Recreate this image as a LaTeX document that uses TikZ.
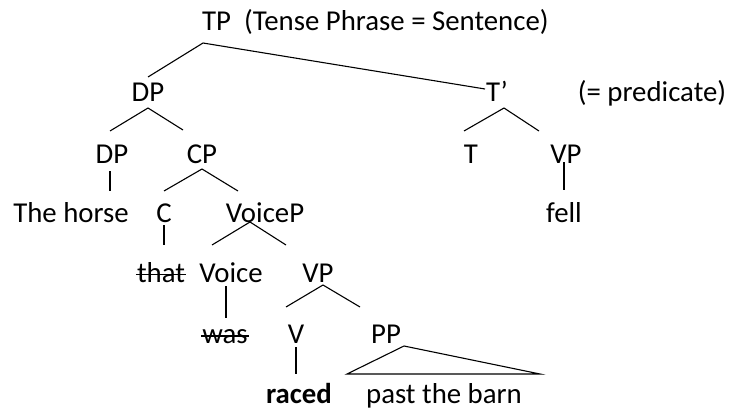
\documentclass[tikz,border=0pt]{standalone}
\usepackage{fontspec}
\setmainfont{Carlito}
\begin{document}
\begin{tikzpicture}[x=1pt,y=-1pt,
  lab/.style={anchor=base,inner sep=0pt,font=\fontsize{28.8}{30}\selectfont},
  edge/.style={line width=1.1pt},
  strike/.style={line width=1.1pt}]
\useasboundingbox (0,0) rectangle (731,412);
% labels
\node[lab,anchor=base west] (TP) at (202,31) {TP\ \ (Tense Phrase = Sentence)};
\node[lab] (DPa) at (148,102) {DP};
\node[lab] (Tbar) at (497,102) {T’};
\node[lab] (pred) at (652,102) {(= predicate)};
\node[lab] (DPb) at (112,163) {DP};
\node[lab] (CP) at (202,163) {CP};
\node[lab] (T) at (471,163) {T};
\node[lab] (VPa) at (566,163) {VP};
\node[lab] (horse) at (71,222) {The horse};
\node[lab] (C) at (164,222) {C};
\node[lab] (VoiceP) at (265,222) {VoiceP};
\node[lab] (fell) at (564,222) {fell};
\node[lab] (that) at (161,282) {that};
\node[lab] (Voice) at (231,282) {Voice};
\node[lab] (VPb) at (318,282) {VP};
\node[lab] (was) at (225,343) {was};
\node[lab] (V) at (296,343) {V};
\node[lab] (PP) at (386,343) {PP};
\node[lab,font=\fontsize{28.8}{30}\selectfont\bfseries] (raced) at (299,403) {raced};
\node[lab] (barn) at (444,403) {past the barn};
% strike-through
\draw[strike] ([xshift=-1pt,yshift=7.5pt]that.base west) -- ([xshift=1pt,yshift=7.5pt]that.base east);
\draw[strike] ([xshift=-1pt,yshift=7pt]was.base west) -- ([xshift=1pt,yshift=7pt]was.base east);
% branch points
\coordinate (tpb) at (203,43);
\coordinate (dpat) at (148,77);
\coordinate (tbart) at (485,89);
\coordinate (dpab) at (148,108);
\coordinate (dpbt) at (110,131);
\coordinate (cpt) at (183,130);
\coordinate (dpbb) at (110,171);
\coordinate (horset) at (110,191);
\coordinate (cpb) at (202,169);
\coordinate (ct) at (164,191);
\coordinate (voicept) at (238,191);
\coordinate (tbarb) at (504,108);
\coordinate (tt) at (464,131);
\coordinate (vpat) at (539,131);
\coordinate (vpab) at (564,162);
\coordinate (fellt) at (564,190);
\coordinate (cb) at (164,225);
\coordinate (thatt) at (164,245);
\coordinate (voicepb) at (250,222);
\coordinate (voicet) at (212,245);
\coordinate (vpbt) at (286,245);
\coordinate (voiceb) at (226,286);
\coordinate (wast) at (226,318);
\coordinate (vpbb) at (323,285);
\coordinate (vt) at (286,307);
\coordinate (ppt) at (360,307);
\coordinate (vb) at (296,347);
\coordinate (racedt) at (296,374);
\coordinate (ppapex) at (404,346);
\coordinate (ppl) at (347,374);
\coordinate (ppr) at (540,374);
% edges
\draw[edge] (dpat) -- (tpb) -- (tbart);
\draw[edge] (dpbt) -- (dpab) -- (cpt);
\draw[edge] (dpbb) -- (horset);
\draw[edge] (ct) -- (cpb) -- (voicept);
\draw[edge] (tt) -- (tbarb) -- (vpat);
\draw[edge] (vpab) -- (fellt);
\draw[edge] (cb) -- (thatt);
\draw[edge] (voicet) -- (voicepb) -- (vpbt);
\draw[edge] (voiceb) -- (wast);
\draw[edge] (vt) -- (vpbb) -- (ppt);
\draw[edge] (vb) -- (racedt);
\draw[edge] (ppapex) -- (ppl) -- (ppr) -- cycle;
\end{tikzpicture}
\end{document}
